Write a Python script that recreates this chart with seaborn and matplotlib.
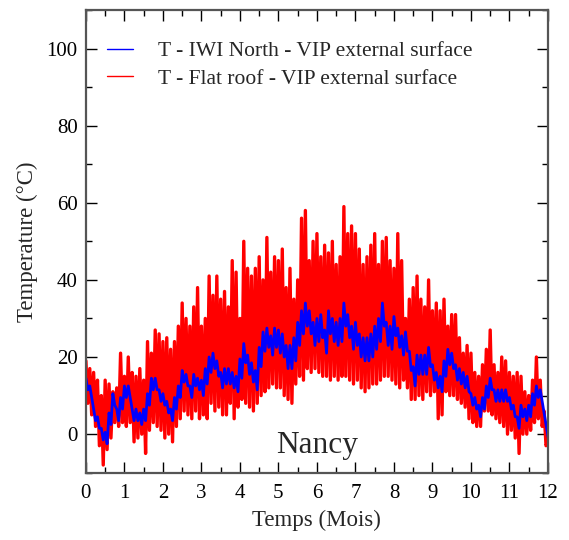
import numpy as np
import pandas as pd
import matplotlib
matplotlib.use("Agg")
import matplotlib.pyplot as plt
import seaborn as sns
from matplotlib.ticker import MultipleLocator
from matplotlib.lines import Line2D

# ---- data (0.1-month knots) ----
months = [round(0.1 * i, 1) for i in range(121)]

# Flat roof: daily maxima / minima envelope
red_high = [19, 17, 16, 14, 10, 14, 13, 11, 12, 21,
            15, 20, 16, 15, 17, 14, 24, 21, 27, 26,
            24, 25, 22, 24, 28, 34, 30, 28, 33, 38,
            28, 30, 41, 36, 41, 35, 37, 33, 45, 42,
            30, 50, 43, 41, 43, 46, 40, 51, 42, 46,
            45, 48, 38, 43, 35, 40, 56, 58, 45, 50,
            52, 46, 49, 47, 50, 44, 46, 59, 52, 54,
            52, 48, 44, 46, 49, 52, 44, 50, 51, 45,
            43, 52, 45, 30, 35, 38, 41, 35, 33, 40,
            32, 34, 32, 35, 28, 31, 31, 25, 21, 23,
            21, 16, 15, 18, 22, 27, 18, 16, 20, 19,
            16, 15, 16, 15, 11, 10, 14, 20, 14, 6,
            -2]
red_low = [8, 5, 2, -3, -8, -4, -1, 3, 2, 3,
           2, 3, -2, -1, 0, -5, 1, 3, 2, 1,
           -1, 0, -2, 2, 4, 6, 5, 4, 6, 4,
           5, 4, 8, 6, 7, 5, 5, 8, 4, 7,
           9, 8, 7, 6, 8, 10, 11, 12, 13, 12,
           12, 10, 9, 8, 13, 15, 14, 17, 16, 17,
           16, 15, 15, 14, 15, 14, 15, 15, 14, 13,
           14, 12, 11, 12, 13, 13, 14, 15, 15, 14,
           13, 12, 14, 12, 9, 9, 10, 9, 11, 10,
           11, 4, 5, 11, 10, 10, 9, 8, 7, 4,
           3, 2, 2, 6, 6, 5, 4, 3, 2, 0,
           1, -1, -5, 0, 0, 1, 3, 4, 2, -3,
           -5]

# IWI North: mean level and daily swing per month
blue_mean = [13, 11, 5, 3, 0, -1, 4, 9, 5, 8,
             11, 11, 5, 5, 4, 5, 9, 13, 13, 10,
             9, 7, 5, 8, 11, 15, 14, 11, 14, 13,
             12, 15, 18, 19, 17, 14, 15, 15, 14, 13,
             17, 21, 18, 16, 14, 20, 24, 25, 23, 25,
             24, 23, 20, 20, 22, 26, 29, 31, 29, 26,
             27, 28, 24, 29, 27, 26, 27, 31, 28, 25,
             26, 23, 22, 22, 23, 25, 27, 31, 26, 25,
             28, 25, 23, 24, 19, 15, 18, 18, 18, 20,
             16, 14, 13, 17, 20, 19, 16, 15, 14, 13,
             9, 8, 6, 8, 11, 13, 10, 10, 10, 10,
             8, 6, 3, 6, 5, 6, 9, 11, 10, 4,
             -2]
blue_swing = [3, 3, 3, 4, 5, 6, 6, 6, 5, 4, 3, 3, 3]

labels = ["T - IWI North - VIP external surface",
          "T - Flat roof - VIP external surface"]

# ---- build traces (alternate day/night values) ----
rx, ry, bx, by = [], [], [], []
for i, t in enumerate(months):
    rx += [t, t + 0.05]
    ry += [red_high[i], red_low[i]]
    s = blue_swing[int(t)] / 2.0
    bx += [t, t + 0.05]
    by += [blue_mean[i] + s, blue_mean[i] - s]
red_df = pd.DataFrame({"Mois": rx, "T": ry})
blue_df = pd.DataFrame({"Mois": bx, "T": by})

sns.set_style("ticks")
plt.rcParams["font.family"] = ["Liberation Serif", "DejaVu Serif"]

fig = plt.figure(figsize=(5.69, 5.40), dpi=100)
ax = fig.add_axes([0.151, 0.1246, 0.812, 0.857])

sns.lineplot(data=red_df, x="Mois", y="T", color="#ff0000", lw=2.4,
             estimator=None, sort=False, ax=ax)
sns.lineplot(data=blue_df, x="Mois", y="T", color="#0000ff", lw=2.0,
             estimator=None, sort=False, ax=ax)

ax.set_xlim(0, 12)
ax.set_ylim(-10, 110)
ax.xaxis.set_major_locator(MultipleLocator(1))
ax.xaxis.set_minor_locator(MultipleLocator(0.5))
ax.yaxis.set_major_locator(MultipleLocator(20))
ax.yaxis.set_minor_locator(MultipleLocator(10))
ax.tick_params(which="both", direction="in", top=True, right=True,
               labelsize=15, colors="black", width=1.0)
ax.tick_params(which="major", length=8)
ax.tick_params(which="minor", length=4.3)
ax.tick_params(axis="x", pad=8)
ax.tick_params(axis="y", pad=6)
for sp in ax.spines.values():
    sp.set_color("#555555")
    sp.set_linewidth(1.6)
    sp.set_visible(True)

ax.set_xlabel("Temps (Mois)", fontsize=16.5, labelpad=5)
ax.set_ylabel("Temperature (°C)", fontsize=16.5, labelpad=6)

ax.text(6, -3, "Nancy", fontsize=22.5, ha="center", va="center")

handles = [Line2D([], [], color="#0000ff", lw=1),
           Line2D([], [], color="#ff0000", lw=1)]
ax.legend(handles, labels, loc="upper left", bbox_to_anchor=(0.003, 0.974),
          frameon=False, fontsize=15.5, handlelength=1.2,
          handletextpad=1.2, labelspacing=0.35)

fig.savefig("out.png", dpi=100)
